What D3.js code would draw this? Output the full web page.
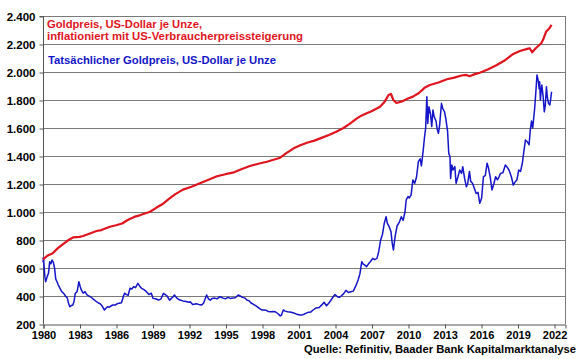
<!DOCTYPE html>
<html><head><meta charset="utf-8">
<script src="https://cdn.jsdelivr.net/npm/d3@7"></script>
<style>body{margin:0;background:#fff}svg{display:block}text{font-family:"Liberation Sans",Arial,sans-serif;font-weight:bold}</style>
</head><body>
<svg id="c" width="580" height="359"></svg>
<script>
const goldYears=[1980.00,1980.04,1980.15,1980.22,1980.35,1980.45,1980.55,1980.65,1980.75,1980.85,1980.95,1981.05,1981.15,1981.25,1981.4,1981.55,1981.7,1981.85,1982.0,1982.1,1982.2,1982.3,1982.45,1982.55,1982.65,1982.8,1982.95,1983.05,1983.15,1983.3,1983.45,1983.6,1983.75,1983.9,1984.1,1984.25,1984.4,1984.55,1984.7,1984.85,1985.05,1985.15,1985.3,1985.45,1985.6,1985.75,1985.95,1986.1,1986.25,1986.45,1986.6,1986.7,1986.85,1987.0,1987.15,1987.3,1987.45,1987.6,1987.8,1987.95,1988.1,1988.3,1988.5,1988.7,1988.9,1989.05,1989.25,1989.5,1989.7,1989.9,1990.05,1990.2,1990.4,1990.55,1990.7,1990.8,1991.0,1991.25,1991.5,1991.75,1992.0,1992.1,1992.3,1992.6,1992.8,1993.05,1993.2,1993.45,1993.6,1993.75,1993.9,1994.1,1994.3,1994.55,1994.8,1995.0,1995.2,1995.4,1995.6,1995.8,1996.05,1996.2,1996.4,1996.6,1996.75,1996.95,1997.1,1997.3,1997.6,1997.8,1998.0,1998.15,1998.35,1998.5,1998.7,1998.9,1999.1,1999.3,1999.5,1999.6,1999.75,1999.9,2000.1,2000.3,2000.55,2000.8,2001.1,2001.3,2001.45,2001.6,2001.75,2002.0,2002.2,2002.45,2002.7,2002.95,2003.1,2003.3,2003.5,2003.7,2003.9,2004.0,2004.2,2004.35,2004.5,2004.7,2004.9,2005.1,2005.3,2005.5,2005.7,2005.9,2006.05,2006.2,2006.3,2006.45,2006.6,2006.75,2006.9,2007.1,2007.25,2007.45,2007.6,2007.75,2007.9,2008.05,2008.2,2008.3,2008.45,2008.6,2008.7,2008.8,2008.95,2009.1,2009.3,2009.45,2009.6,2009.75,2009.85,2010.0,2010.1,2010.25,2010.4,2010.55,2010.7,2010.85,2011.0,2011.1,2011.25,2011.35,2011.45,2011.55,2011.62,2011.72,2011.85,2011.95,2012.05,2012.15,2012.3,2012.4,2012.5,2012.6,2012.75,2012.85,2013.0,2013.1,2013.25,2013.35,2013.45,2013.5,2013.6,2013.7,2013.85,2013.95,2014.1,2014.25,2014.4,2014.5,2014.65,2014.8,2014.9,2015.05,2015.15,2015.3,2015.45,2015.6,2015.75,2015.9,2016.05,2016.2,2016.35,2016.5,2016.6,2016.75,2016.9,2017.05,2017.2,2017.35,2017.5,2017.6,2017.8,2018.0,2018.15,2018.3,2018.5,2018.65,2018.85,2018.95,2019.1,2019.25,2019.4,2019.5,2019.65,2019.8,2019.95,2020.05,2020.15,2020.25,2020.4,2020.5,2020.6,2020.7,2020.78,2020.82,2020.88,2020.95,2021.0,2021.1,2021.2,2021.28,2021.38,2021.45,2021.55,2021.65,2021.72,2021.8];
const goldValues=[640,675,540,502,540,562,645,630,657,640,600,520,502,480,455,430,419,400,385,348,324,330,336,360,419,430,502,470,443,420,431,410,400,395,380,370,359,350,345,330,300,310,324,320,330,336,335,345,348,352,395,420,410,405,455,450,467,460,490,470,455,445,431,410,420,383,380,371,380,419,410,400,370,383,395,407,385,371,365,360,355,359,340,345,340,336,350,407,380,370,383,385,380,395,385,380,390,383,385,387,407,400,390,385,371,365,350,340,324,310,300,300,298,290,288,290,287,275,258,264,300,292,288,285,280,272,264,265,270,276,283,285,300,315,318,340,355,330,350,375,400,410,395,390,400,415,440,425,430,435,470,514,560,645,630,621,610,630,645,669,660,669,720,800,840,920,966,919,895,860,780,729,830,900,930,966,940,1000,1086,1110,1100,1120,1229,1205,1250,1360,1380,1330,1440,1530,1600,1824,1633,1752,1700,1610,1729,1680,1650,1590,1562,1620,1776,1740,1716,1670,1580,1419,1395,1240,1336,1300,1324,1205,1250,1300,1276,1324,1240,1180,1200,1290,1220,1205,1170,1133,1140,1062,1100,1252,1260,1348,1320,1252,1157,1200,1252,1230,1255,1276,1280,1336,1320,1300,1250,1193,1220,1229,1300,1290,1350,1419,1514,1502,1480,1586,1650,1600,1730,1848,1979,1940,1880,1931,1800,1870,1907,1830,1716,1760,1895,1820,1776,1764,1800,1859];
const realYears=[1980.0,1980.4,1980.8,1981.2,1981.65,1982.1,1982.5,1983.0,1983.3,1983.8,1984.4,1984.8,1985.5,1986.0,1986.5,1987.0,1987.5,1988.0,1988.8,1989.3,1989.8,1990.3,1990.85,1991.5,1992.2,1992.9,1993.6,1994.3,1995.0,1995.6,1996.3,1997.0,1997.7,1998.4,1999.5,2000.0,2000.6,2001.2,2001.7,2002.3,2003.0,2003.5,2004.1,2004.7,2005.2,2005.8,2006.2,2006.6,2007.0,2007.7,2008.1,2008.4,2008.6,2008.8,2009.05,2009.5,2010.0,2010.4,2010.9,2011.4,2011.8,2012.5,2013.2,2013.8,2014.4,2014.8,2015.05,2015.5,2015.9,2016.6,2017.3,2017.9,2018.6,2019.2,2019.8,2020.0,2020.2,2020.5,2020.95,2021.1,2021.35,2021.6,2021.8];
const realValues=[662,690,705,740,771,800,819,822,829,845,864,871,895,905,918,945,965,978,1002,1030,1055,1090,1126,1160,1180,1205,1230,1255,1270,1281,1305,1329,1345,1359,1388,1420,1455,1478,1495,1510,1533,1550,1573,1600,1629,1669,1690,1705,1720,1752,1790,1836,1843,1800,1779,1790,1810,1824,1850,1890,1907,1925,1948,1960,1975,1979,1970,1985,1995,2020,2050,2080,2126,2150,2165,2170,2141,2170,2205,2230,2288,2310,2336];
const xTicks=[1980,1983,1986,1989,1992,1995,1998,2001,2004,2007,2010,2013,2016,2019,2022];
const yTicks=[200,400,600,800,1000,1200,1400,1600,1800,2000,2200,2400];
const labelReal=["Goldpreis, US-Dollar je Unze,","inflationiert mit US-Verbraucherpreissteigerung"];
const labelGold="Tatsächlicher Goldpreis, US-Dollar je Unze";
const source="Quelle: Refinitiv, Baader Bank Kapitalmarktanalyse";

const svg=d3.select("#c");
const L=43,R=565,T=16,B=324;
const x=d3.scaleLinear().domain([1980,1980+(R-L)/12.167]).range([L,R]);
const y=d3.scaleLinear().domain([200,2400]).range([B,T]);
const fmt=d3.formatLocale({decimal:",",thousands:".",grouping:[3],currency:["",""]}).format(",");

// grid
svg.append("g").selectAll("line").data(yTicks.slice(1)).join("line")
  .attr("x1",L).attr("x2",R).attr("y1",d=>y(d)+0.5).attr("y2",d=>y(d)+0.5)
  .attr("stroke","#7a7a7a").attr("stroke-width",1);
svg.append("line").attr("x1",R+0.5).attr("x2",R+0.5).attr("y1",T).attr("y2",B).attr("stroke","#7a7a7a");

const yAxis=svg.append("g").attr("transform",`translate(${L+0.5},0.5)`)
  .call(d3.axisLeft(y).tickValues(yTicks).tickFormat(fmt).tickSize(4).tickPadding(4));
const xAxis=svg.append("g").attr("transform",`translate(0.5,${B+0.5})`)
  .call(d3.axisBottom(x).tickValues(xTicks).tickFormat(d3.format("d")).tickSize(4).tickPadding(3));
[yAxis,xAxis].forEach(g=>{
  g.select(".domain").attr("stroke","#555");
  g.selectAll(".tick line").attr("stroke","#555");
  g.selectAll("text").attr("fill","#000").style("font-family","'Liberation Sans',Arial,sans-serif").style("font-weight","bold");
});
yAxis.selectAll("text").style("font-size","11.5px");
xAxis.selectAll("text").style("font-size","11px");
yAxis.select(".domain").attr("d",`M-4,${y(2400)}H0V${B}`);

const line=d3.line().x(d=>x(d[0])).y(d=>y(d[1]));
svg.append("path").datum(goldYears.map((t,i)=>[t,goldValues[i]]))
  .attr("d",line).attr("fill","none").attr("stroke","#1414c8").attr("stroke-width",1.5).attr("stroke-linejoin","round");
svg.append("path").datum(realYears.map((t,i)=>[t,realValues[i]]))
  .attr("d",line).attr("fill","none").attr("stroke","#e0141e").attr("stroke-width",2.2).attr("stroke-linejoin","round");

svg.append("text").attr("x",47).attr("y",27.5).attr("fill","#e0141e").style("font-size","11px")
  .attr("textLength",155).attr("lengthAdjust","spacingAndGlyphs").text(labelReal[0]);
svg.append("text").attr("x",47).attr("y",40).attr("fill","#e0141e").style("font-size","11px")
  .attr("textLength",256).attr("lengthAdjust","spacingAndGlyphs").text(labelReal[1]);
svg.append("text").attr("x",48).attr("y",64).attr("fill","#1414c8").style("font-size","11.5px")
  .attr("textLength",228).attr("lengthAdjust","spacingAndGlyphs").text(labelGold);
svg.append("text").attr("x",576).attr("y",353).attr("text-anchor","end").attr("fill","#000").style("font-size","10.5px")
  .attr("textLength",272).attr("lengthAdjust","spacingAndGlyphs").text(source);
</script>
</body></html>
